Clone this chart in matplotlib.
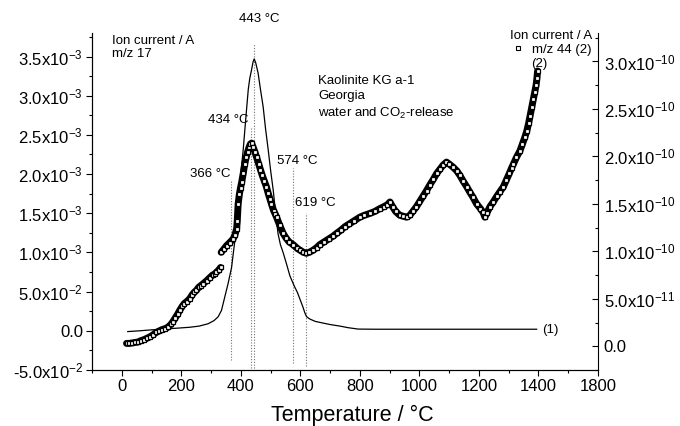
import matplotlib
matplotlib.use("Agg")
import matplotlib.pyplot as plt
import numpy as np

plt.rcParams['font.family'] = ['Liberation Sans', 'DejaVu Sans']
plt.rcParams['mathtext.fontset'] = 'custom'
plt.rcParams['mathtext.rm'] = 'Liberation Sans'
plt.rcParams['mathtext.default'] = 'regular'

# m/z 17 ion current, (1), left axis, in 1e-3 A
t17 = [20, 60, 100, 140, 180, 228, 260, 290, 310, 324, 335, 346, 357, 369, 376,
       383, 386, 391, 397, 402, 408, 416, 425, 430, 436, 441, 445, 450, 458, 466,
       475, 483, 492, 500, 509, 517, 525, 533, 542, 553, 565, 574, 581, 590, 600,
       609, 615, 621, 632, 650, 677, 700, 733, 760, 794, 850, 1000, 1200, 1394]
i17 = [-0.01, 0.0, 0.012, 0.022, 0.032, 0.045, 0.06, 0.09, 0.13, 0.18, 0.26, 0.43,
       0.60, 0.81, 1.03, 1.24, 1.45, 1.65, 1.88, 2.08, 2.31, 2.68, 3.08, 3.22, 3.33,
       3.43, 3.47, 3.42, 3.29, 3.08, 2.86, 2.58, 2.31, 2.05, 1.79, 1.50, 1.24, 1.10,
       1.00, 0.86, 0.70, 0.62, 0.56, 0.49, 0.39, 0.30, 0.23, 0.18, 0.15, 0.12, 0.098,
       0.08, 0.06, 0.04, 0.022, 0.02, 0.02, 0.02, 0.02]

# m/z 44 ion current, (2), right axis, in 1e-10 A (nan = gap in the record)
t44 = [16, 25, 35, 45, 55, 65, 75, 85, 95, 105, 115, 125, 135, 145, 155, 165, 172,
       180, 188, 195, 203, 210, 218, 228, 236, 244, 251, 258, 266, 274, 285, 295,
       305, 312, 318, 325, 332, 333, 334, 342, 352, 362, 374, 380, 386, 388, 391,
       395, 399, 403, 408, 413, 418, 423, 428, 432, 436, 441, 447, 453, 460, 466,
       472, 479, 486, 492, 498, 503, 510, 516, 520, 530, 542, 552, 562, 576, 590,
       600, 610, 620, 630, 642, 655, 665, 680, 695, 710, 722, 735, 750, 765, 780,
       800, 815, 834, 850, 867, 880, 892, 901, 910, 920, 934, 945, 957, 968, 980,
       990, 1000, 1012, 1024, 1035, 1047, 1058, 1070, 1080, 1091, 1100, 1112, 1125,
       1136, 1147, 1159, 1170, 1180, 1192, 1205, 1214, 1220, 1226, 1237, 1248, 1260,
       1271, 1282, 1292, 1302, 1310, 1316, 1326, 1338, 1346, 1354, 1361, 1367, 1372,
       1378, 1383, 1388, 1392, 1395, 1397]
i44 = [0.03, 0.03, 0.035, 0.04, 0.045, 0.06, 0.07, 0.085, 0.10, 0.12, 0.145, 0.16,
       0.175, 0.185, 0.20, 0.23, 0.26, 0.30, 0.34, 0.38, 0.42, 0.45, 0.47, 0.50, 0.54,
       0.57, 0.59, 0.62, 0.64, 0.66, 0.69, 0.72, 0.75, 0.76, 0.78, 0.80, 0.83, np.nan,
       0.99, 1.02, 1.06, 1.09, 1.13, 1.17, 1.24, 1.32, 1.50, 1.60, 1.67, 1.73, 1.82,
       1.92, 1.99, 2.05, 2.10, 2.13, 2.14, 2.10, 2.05, 1.99, 1.92, 1.86, 1.80, 1.74,
       1.68, 1.61, 1.55, 1.50, 1.43, 1.39, 1.36, 1.28, 1.19, 1.14, 1.10, 1.07, 1.03,
       1.01, 0.99, 0.98, 0.99, 1.01, 1.04, 1.07, 1.10, 1.13, 1.16, 1.19, 1.22, 1.26,
       1.29, 1.32, 1.36, 1.38, 1.40, 1.42, 1.45, 1.47, 1.49, 1.52, 1.47, 1.42, 1.38,
       1.37, 1.36, 1.38, 1.43, 1.47, 1.52, 1.58, 1.64, 1.70, 1.76, 1.82, 1.87, 1.91,
       1.94, 1.92, 1.89, 1.85, 1.80, 1.74, 1.68, 1.62, 1.57, 1.50, 1.45, 1.41, 1.36,
       1.40, 1.47, 1.52, 1.58, 1.63, 1.68, 1.75, 1.82, 1.88, 1.92, 1.99, 2.06, 2.13,
       2.20, 2.27, 2.35, 2.43, 2.52, 2.60, 2.68, 2.75, 2.83, 2.90]

# marked peak temperatures and heights of the dotted markers (left axis units)
peak_t = [366, 434, 443, 574, 619]
peak_top = [1.92, 2.59, 3.67, 2.08, 1.50]
peak_bottom = [-0.37, -0.47, -0.47, -0.41, -0.45]

xtick_pos = [0, 200, 400, 600, 800, 1000, 1200, 1400, 1600]
xtick_labels = ['0', '200', '400', '600', '800', '1000', '1200', '1400', '1800']
ytick_left = [-0.5, 0.0, 0.5, 1.0, 1.5, 2.0, 2.5, 3.0, 3.5]
ylabels_left = ['-5.0x10$^{-2}$', '0.0', '5.0x10$^{-2}$', '1.0x10$^{-3}$',
                '1.5x10$^{-3}$', '2.0x10$^{-3}$', '2.5x10$^{-3}$', '3.0x10$^{-3}$',
                '3.5x10$^{-3}$']
ytick_right = [0.0, 0.5, 1.0, 1.5, 2.0, 2.5, 3.0]
ylabels_right = ['0.0', '5.0x10$^{-11}$', '1.0x10$^{-10}$', '1.5x10$^{-10}$',
                 '2.0x10$^{-10}$', '2.5x10$^{-10}$', '3.0x10$^{-10}$']

fig = plt.figure(figsize=(6.8, 4.26), dpi=100)
ax = fig.add_axes([0.1353, 0.1315, 0.7441, 0.791])
ax2 = ax.twinx()

# dotted peak markers
for t, top, bot in zip(peak_t, peak_top, peak_bottom):
    ax.plot([t, t], [bot, top], color='0.45', lw=0.8, ls=(0, (1, 1.5)))

ax.plot(t17, i17, color='black', lw=0.9)
# thick band + small open squares, like the dense scan in the original
ax2.plot(t44, i44, color='black', lw=5.0, solid_capstyle='round')
ax2.plot(t44, i44, color='black', lw=0, marker='s', ms=3.4, mfc='white',
         mec='black', mew=0.9, label='m/z 44 (2)')

ax.set_xlim(-100, 1600)
ax.set_ylim(-0.5, 3.8)
ax2.set_ylim(-0.25, 3.3)

ax.set_xticks(xtick_pos)
ax.set_xticklabels(xtick_labels)
ax.set_xticks(np.arange(-100, 1600, 100), minor=True)
ax.set_yticks(ytick_left)
ax.set_yticklabels(ylabels_left)
ax.set_yticks(np.arange(-0.5, 3.8, 0.25), minor=True)
ax2.set_yticks(ytick_right)
ax2.set_yticklabels(ylabels_right)
ax2.set_yticks(np.arange(-0.25, 3.3, 0.25), minor=True)

for a in (ax, ax2):
    a.spines['top'].set_visible(False)
    for s in a.spines.values():
        s.set_linewidth(0.8)
    a.tick_params(which='major', direction='out', length=4.5, width=0.8, labelsize=12, pad=2)
    a.tick_params(which='minor', direction='out', length=2.5, width=0.8)
ax2.tick_params(which='both', direction='in', pad=4)
ax.spines['right'].set_visible(False)

ax.set_xlabel('Temperature / °C', fontsize=15.5)
ax.xaxis.set_label_coords(0.514, -0.105)

# peak labels
fs = 9.5
ax.text(364, 2.0, '366 °C', fontsize=fs, ha='right', va='center')
ax.text(426, 2.69, '434 °C', fontsize=fs, ha='right', va='center')
ax.text(462, 3.98, '443 °C', fontsize=fs, ha='center', va='center', clip_on=False)
ax.text(588, 2.17, '574 °C', fontsize=fs, ha='center', va='center')
ax.text(583, 1.63, '619 °C', fontsize=fs, ha='left', va='center')

ax.text(0.04, 0.995, 'Ion current / A\nm/z 17', transform=ax.transAxes,
        fontsize=fs, ha='left', va='top', linespacing=1.15)
ax.text(0.447, 0.874, 'Kaolinite KG a-1\nGeorgia\nwater and CO$_2$-release',
        transform=ax.transAxes, fontsize=fs, ha='left', va='top', linespacing=1.32)
ax.text(1412, 0.01, '(1)', fontsize=fs, ha='left', va='center')
ax2.text(1375, 2.97, '(2)', fontsize=fs, ha='left', va='center')

leg = ax2.legend(loc='upper right', bbox_to_anchor=(0.988, 1.008), frameon=False,
                 title='Ion current / A', fontsize=fs, title_fontsize=fs,
                 handlelength=0.8, handletextpad=0.7, borderpad=0, borderaxespad=0,
                 markerscale=0.85, alignment='right', labelspacing=0.1)
for h in leg.legend_handles:
    h.set_linestyle('none')
    h.set_markeredgewidth(0.8)

fig.savefig('out.png', dpi=100)
